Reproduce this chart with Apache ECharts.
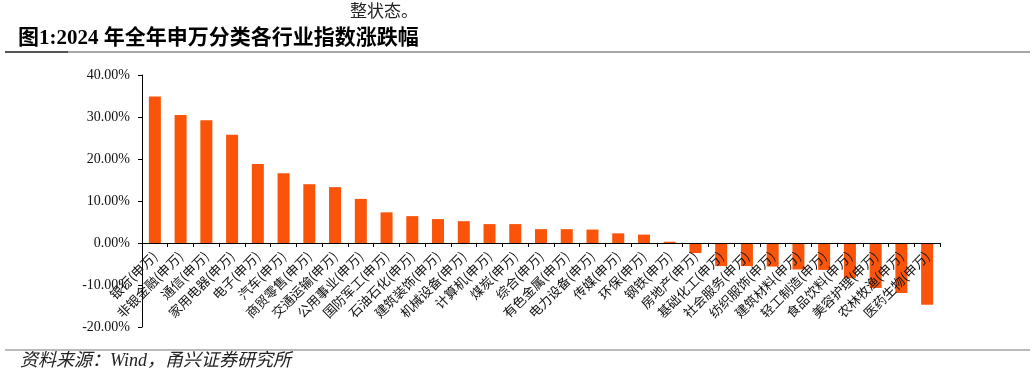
<!DOCTYPE html>
<html>
<head>
<meta charset="utf-8">
<script src="https://cdn.jsdelivr.net/npm/echarts@6/dist/echarts.min.js"></script>
<style>
html,body{margin:0;padding:0;background:#fff;}
#c{width:1032px;height:377px;}
</style>
</head>
<body>
<div id="c"></div>
<script>
var categories = ['银行(申万)','非银金融(申万)','通信(申万)','家用电器(申万)','电子(申万)','汽车(申万)','商贸零售(申万)','交通运输(申万)','公用事业(申万)','国防军工(申万)','石油石化(申万)','建筑装饰(申万)','机械设备(申万)','计算机(申万)','煤炭(申万)','综合(申万)','有色金属(申万)','电力设备(申万)','传媒(申万)','环保(申万)','钢铁(申万)','房地产(申万)','基础化工(申万)','社会服务(申万)','纺织服饰(申万)','建筑材料(申万)','轻工制造(申万)','食品饮料(申万)','美容护理(申万)','农林牧渔(申万)','医药生物(申万)'];
var changes = [34.9, 30.5, 29.2, 25.8, 18.8, 16.6, 14.0, 13.3, 10.5, 7.3, 6.4, 5.7, 5.2, 4.5, 4.5, 3.3, 3.3, 3.2, 2.3, 2.0, 0.3, -2.4, -5.5, -5.5, -5.6, -6.3, -6.4, -8.4, -10.7, -11.9, -14.7];
var yTicks = {min: -20, max: 40, interval: 10};
var titleText = '图1:2024 年全年申万分类各行业指数涨跌幅';
var topText = '整状态。';
var sourceText = '资料来源：Wind，甬兴证券研究所';

var chart = echarts.init(document.getElementById('c'), null, {renderer: 'canvas'});
var gridTop = 75, gridBottom = 50;
chart.setOption({
  animation: false,
  backgroundColor: '#fff',
  grid: {left: 142, right: 92, top: gridTop, bottom: gridBottom, containLabel: false, outerBoundsMode: 'none'},
  xAxis: {
    type: 'category',
    data: categories,
    z: 5,
    position: 'bottom',
    offset: 0,
    axisLine: {onZero: false, lineStyle: {color: '#000', width: 1}},
    axisTick: {show: true, alignWithLabel: false, length: 4, lineStyle: {color: '#000'}},
    axisLabel: {interval: 0, rotate: 45, fontSize: 13, color: '#111', margin: 11,
      fontFamily: '"Noto Sans CJK SC", sans-serif', hideOverlap: false},
    splitLine: {show: false}
  },
  yAxis: {
    type: 'value',
    min: yTicks.min, max: yTicks.max, interval: yTicks.interval,
    axisLine: {show: true, lineStyle: {color: '#000', width: 1}},
    axisTick: {show: true, length: 4, lineStyle: {color: '#000'}},
    axisLabel: {formatter: function(v){return v.toFixed(2) + '%';}, fontSize: 14, color: '#111',
      fontFamily: '"Liberation Serif", serif', margin: 12},
    splitLine: {show: false}
  },
  series: [{
    type: 'bar',
    data: changes,
    barWidth: 12,
    itemStyle: {color: '#F95409'},
    z: 2
  }],
  graphic: [
    {type: 'text', left: 350, top: 2, style: {text: topText, fill: '#222', font: '17px "Noto Sans CJK SC", serif'}},
    {type: 'text', left: 18, top: 28, style: {text: titleText, fill: '#000', font: 'bold 21px "Liberation Serif", "Noto Sans CJK SC", serif'}},
    {type: 'line', shape: {x1: 5, y1: 52, x2: 1030, y2: 52}, style: {stroke: '#8a8a8a', lineWidth: 1.5}},
    {type: 'line', shape: {x1: 5, y1: 52, x2: 68, y2: 52}, style: {stroke: '#555', lineWidth: 2}},
    {type: 'line', shape: {x1: 5, y1: 350, x2: 1030, y2: 350}, style: {stroke: '#777', lineWidth: 1.2}},
    {type: 'text', left: 20, top: 352, style: {text: sourceText, fill: '#222', font: 'italic 18px "Liberation Serif", "Noto Sans CJK SC", serif'}}
  ]
});
// Move the category axis (line + labels) up to the zero value of the y scale
var zeroPx = chart.convertToPixel({yAxisIndex: 0}, 0);
var bottomPx = chart.getHeight() - gridBottom;
chart.setOption({xAxis: {offset: -(bottomPx - zeroPx)}});
</script>
</body>
</html>
